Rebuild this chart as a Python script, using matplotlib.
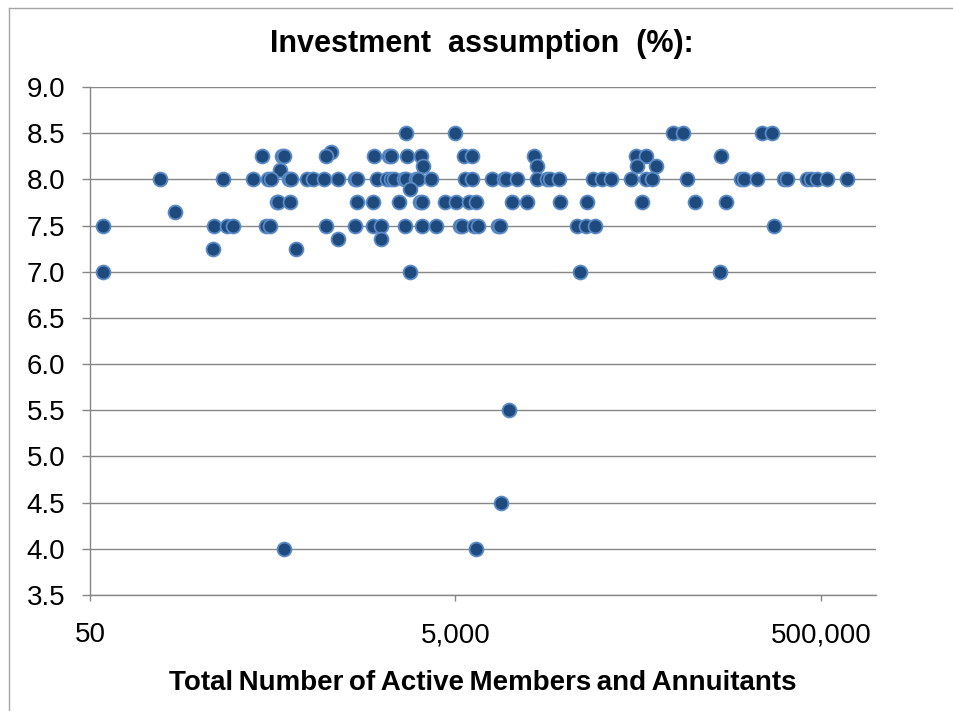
#!/usr/bin/env python3
"""Investment assumption vs plan size — scatter on a log axis."""
import numpy as np
import matplotlib
matplotlib.use("Agg")
import matplotlib.pyplot as plt
from matplotlib.lines import Line2D

plt.rcParams["font.family"] = ["Liberation Sans", "DejaVu Sans"]

# plans grouped by their assumed return (%), x = total active members + annuitants
members_850 = [2680, 4960, 77800, 88300, 236800, 271000]
members_830 = [1045]
members_825 = [434, 564, 575, 973, 1790, 2160, 2210, 2720, 3220, 5560, 6120,
               13430, 48400, 55400, 141000]
members_815 = [3300, 13900, 49400, 62300]
members_810 = [550]
members_800 = [121, 268, 389, 472, 488, 616, 628, 768, 833, 957, 1131, 1407,
               1450, 1866, 2117, 2207, 2301, 2610, 2666, 3024, 3113, 3653, 5607,
               6180, 7878, 9201, 9483, 10798, 14019, 15904, 16432, 18499, 28384,
               31800, 35315, 45433, 54900, 59726, 92850, 181750, 189400, 224350,
               313600, 327400, 421250, 439200, 477850, 541950, 697300]
members_790 = [2815]
members_775 = [525, 536, 623, 1438, 1766, 2449, 3180, 3290, 4375, 5051, 5918,
               6442, 10139, 12252, 18640, 26318, 52190, 101800, 150450]
members_765 = [145]
members_750 = [59, 239, 280, 304, 458, 482, 973, 1407, 1766, 1945, 2642, 3261,
               3926, 5285, 5400, 6305, 6665, 8574, 8749, 23210, 25990, 28858,
               276500]
members_735 = [1131, 1945]
members_725 = [236, 667]
members_700 = [59, 2815, 23979, 140000]
members_550 = [9802]
members_450 = [8906]
members_400 = [575, 6467]

groups = [
    (8.5, members_850), (8.3, members_830), (8.25, members_825),
    (8.15, members_815), (8.1, members_810), (8.0, members_800),
    (7.9, members_790), (7.75, members_775), (7.65, members_765),
    (7.5, members_750), (7.35, members_735), (7.25, members_725),
    (7.0, members_700), (5.5, members_550), (4.5, members_450),
    (4.0, members_400),
]
members = np.concatenate([np.array(m, dtype=float) for _, m in groups])
rate = np.concatenate([np.full(len(m), r) for r, m in groups])

x_ticks = [50, 5000, 500000]
x_ticklabels = ["50", "5,000", "500,000"]
y_ticks = np.arange(3.5, 9.01, 0.5)

GRID = "#878787"

fig = plt.figure(figsize=(9.54, 7.11), dpi=100)
W, H = 954, 711
ax = fig.add_axes([90 / W, 1 - 595 / H, (876 - 90) / W, (595 - 87) / H])

ax.scatter(members, rate, s=100, color="#1f4a7e", edgecolor="#5b8bc6",
           linewidth=1.3, zorder=3, clip_on=False)

ax.set_xscale("log")
ax.set_xlim(50, 1e6)
ax.set_xticks(x_ticks)
ax.set_xticklabels(x_ticklabels)
ax.xaxis.set_minor_locator(matplotlib.ticker.NullLocator())
ax.set_ylim(3.5, 9.0)
ax.set_yticks(y_ticks)
ax.set_yticklabels([f"{v:.1f}" for v in y_ticks])

ax.grid(axis="y", color=GRID, lw=1.0)
ax.set_axisbelow(True)
for side in ("top", "right"):
    ax.spines[side].set_visible(False)
for side in ("left", "bottom"):
    ax.spines[side].set_color(GRID)
    ax.spines[side].set_linewidth(1.0)

ax.tick_params(axis="y", length=5.8, width=1.0, color=GRID, pad=12,
               labelsize=20, labelcolor="black")
ax.tick_params(axis="x", length=4.5, width=1.0, color=GRID, pad=15,
               labelsize=20, labelcolor="black")

fig.text(482 / W, 1 - 51.7 / H, "Investment  assumption  (%):", ha="center",
         va="baseline", fontsize=22, fontweight="bold")
# Excel squeezes the word gaps of this label, so thin spaces are used
fig.text(483 / W, 1 - 690 / H,
         "Total\u2009Number\u2009of\u2009Active\u2009Members\u2009and\u2009Annuitants",
         ha="center", va="baseline", fontsize=20, fontweight="bold")

# outer chart frame (cropped at right and bottom)
fig.add_artist(Line2D([9 / W, 9 / W], [0, 1 - 8 / H], transform=fig.transFigure,
                      color="#a6a6a6", lw=1.0))
fig.add_artist(Line2D([9 / W, 1], [1 - 8 / H, 1 - 8 / H], transform=fig.transFigure,
                      color="#a6a6a6", lw=1.0))

fig.savefig("out.png", dpi=100)
